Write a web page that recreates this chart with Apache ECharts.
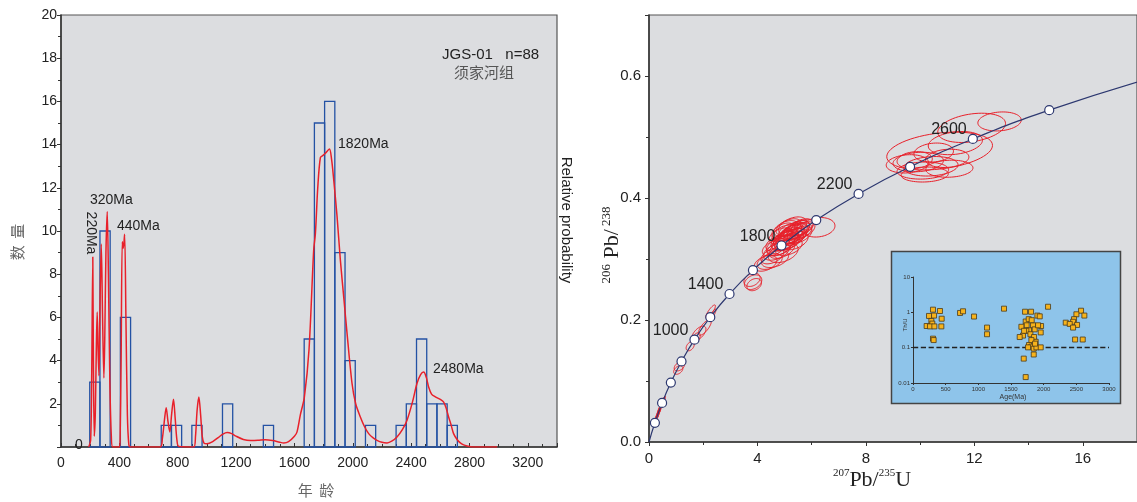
<!DOCTYPE html>
<html><head><meta charset="utf-8">
<script src="https://cdn.jsdelivr.net/npm/echarts@6/dist/echarts.min.js"></script>
<style>html,body{margin:0;padding:0;background:#fff}#c{width:1137px;height:502px}</style>
</head><body><div id="c"></div>
<script>
// ---------- Left: age histogram + probability curve ----------
const binStart = [197,267,407,687,757,897,1107,1387,1667,1737,1807,1877,1947,2087,2297,2367,2437,2507,2577,2647];
const binCount = [3,10,6,1,1,1,2,1,5,15,16,9,4,1,1,2,5,2,2,1];
const binWidth = 70;
const probAge = [190,203,210,218,222,228,235,242,248,254,260,266,276,285,294,300,308,317,325,335,345,355,400,405,412,420,427,436,445,455,465,475,
  680,695,710,721,733,746,758,771,783,795,808,910,922,933,945,957,968,980,1000,1040,1080,1110,1139,1170,1200,1250,1300,1350,1400,1450,1500,1527,1560,1600,1618,1641,1668,1700,1732,1744,1760,1778,1796,1812,1840,1855,1869,1892,1915,1940,1961,1995,2020,2052,2080,2109,2140,2166,2200,2235,2270,2303,2340,2372,2410,2440,2465,2486,2505,2520,2540,2566,2600,2623,2640,2657,2675,2691,2715,2737,2760,2783,2820,2990];
const probVal = [0,0.3,3,8.8,4,0.5,1.5,4.5,6.25,4.5,3.3,6,9.4,6,3.2,5,9,10.9,8,3,0.5,0,0,0.3,4,9.5,9.2,9.85,6,1.5,0.1,0,
  0,0.4,1.3,1.82,1.2,0.7,1.5,2.21,1.3,0.3,0.02,0,0.5,1.7,2.32,1.5,0.5,0.18,0.15,0.25,0.45,0.6,0.67,0.62,0.5,0.35,0.3,0.31,0.34,0.3,0.22,0.19,0.25,0.5,0.7,1.5,2.3,4.5,9.1,9.9,12,13.4,13.5,13.6,13.8,13.3,12.4,10.7,8.65,6.8,5.25,2.94,2.0,1.39,0.95,0.62,0.42,0.31,0.22,0.19,0.28,0.46,0.8,1.24,2.1,2.94,3.35,3.47,3.2,2.78,2.45,2.32,2.2,2.08,1.8,1.39,1.0,0.62,0.35,0.19,0.1,0.05,0,0];

// ---------- Right: concordia ----------
const concAge = [0,200,400,600,800,1000,1200,1400,1600,1800,2000,2200,2400,2600,2800,3000];
const concX = [0,0.2177,0.4828,0.8057,1.1988,1.6774,2.2603,2.9700,3.8345,4.8870,6.1689,7.7297,9.6303,11.9447,14.7624,18.1928];
const concY = [0,0.0315,0.0640,0.0975,0.1321,0.1678,0.2046,0.2426,0.2817,0.3221,0.3638,0.4067,0.4511,0.4968,0.5440,0.5926];
const concLabelAges = [1000,1400,1800,2200,2600];

const ellX = [4.55,4.70,4.80,4.85,4.95,5.00,5.05,5.10,5.15,5.20,5.25,5.30,5.35,5.40,5.45,5.50,5.30,5.10,4.90,5.60,5.20,5.00,4.85,5.30,5.55,4.65,4.45,4.30,4.95,5.15,5.35,5.55,5.65,5.15,4.95,4.75,5.40,4.60,5.70,5.05,6.24,3.84,3.80,3.88,
  12.93,11.90,10.72,11.30,10.17,11.08,9.93,10.50,9.53,10.40,11.00,10.10,9.80,
  2.27,2.35,2.06,1.84,1.73,1.52,1.12,1.08,
  0.24,0.27,0.29,0.31,0.32,0.34,0.36,0.37,0.38,0.40,0.42,0.51,0.53,0.55,0.50];
const ellY = [0.305,0.312,0.318,0.322,0.326,0.330,0.334,0.336,0.332,0.338,0.340,0.344,0.342,0.346,0.348,0.350,0.336,0.328,0.316,0.352,0.346,0.342,0.338,0.354,0.345,0.300,0.296,0.293,0.310,0.320,0.330,0.340,0.352,0.352,0.346,0.326,0.338,0.318,0.348,0.350,0.352,0.262,0.266,0.258,
  0.5255,0.515,0.477,0.490,0.4385,0.448,0.459,0.4745,0.456,0.452,0.465,0.445,0.462,
  0.2137,0.209,0.188,0.178,0.170,0.157,0.124,0.118,
  0.0347,0.039,0.041,0.043,0.045,0.047,0.049,0.051,0.052,0.055,0.057,0.067,0.069,0.071,0.066];
const ellSX = [0.42,0.48,0.44,0.52,0.42,0.50,0.46,0.42,0.55,0.45,0.48,0.42,0.52,0.44,0.48,0.42,0.50,0.46,0.48,0.45,0.42,0.46,0.42,0.52,0.46,0.50,0.46,0.42,0.55,0.50,0.52,0.46,0.42,0.46,0.42,0.44,0.42,0.42,0.42,0.44,0.62,0.32,0.30,0.27,
  0.80,1.25,1.95,1.00,0.87,0.87,0.93,0.73,0.78,1.00,0.80,0.95,0.65,
  0.18,0.12,0.24,0.26,0.16,0.15,0.19,0.17,
  0.06,0.06,0.06,0.06,0.06,0.06,0.06,0.06,0.06,0.06,0.06,0.06,0.06,0.06,0.06];
const ellSY = [0.013,0.014,0.013,0.016,0.013,0.015,0.014,0.013,0.016,0.014,0.015,0.013,0.016,0.014,0.015,0.013,0.014,0.014,0.015,0.014,0.013,0.014,0.013,0.015,0.014,0.014,0.013,0.013,0.016,0.014,0.015,0.014,0.013,0.014,0.013,0.013,0.013,0.013,0.013,0.013,0.016,0.012,0.011,0.010,
  0.0156,0.024,0.031,0.019,0.0123,0.014,0.016,0.0156,0.015,0.016,0.015,0.014,0.014,
  0.011,0.009,0.013,0.012,0.009,0.0075,0.0075,0.007,
  0.004,0.004,0.004,0.004,0.004,0.004,0.004,0.004,0.004,0.004,0.004,0.004,0.004,0.004,0.004];
const ellRho = [0.45,0.45,0.5,0.45,0.45,0.45,0.5,0.45,0.45,0.45,0.4,0.45,0.45,0.5,0.45,0.45,0.45,0.45,0.45,0.45,0.45,0.45,0.45,0.4,0.45,0.4,0.4,0.4,0.4,0.4,0.4,0.45,0.45,0.45,0.45,0.45,0.45,0.45,0.45,0.45,0.15,0.3,0.3,0.3,
  0.15,0.3,0.3,0.25,0.1,0.1,0.15,0.15,0.15,0.15,0.15,0.1,0.15,
  0.85,0.85,0.75,0.6,0.5,0.4,0.4,0.4,
  0.8,0.8,0.8,0.8,0.8,0.8,0.8,0.8,0.8,0.8,0.8,0.8,0.8,0.8,0.8];

// ---------- Inset: Th/U vs age ----------
const insetAge = [306,413,322,245,439,281,296,209,260,327,434,306,316,720,766,934,1133,1133,1393,1715,1807,2067,1904,1940,1725,1771,1740,1659,1837,1960,1776,1863,1684,1735,1797,1955,1853,1700,1878,1776,1812,1761,1848,1889,1955,1848,1695,1725,2572,2501,2623,2465,2450,2338,2399,2511,2450,2481,2598,1812,1633,1817,1914,1868];
const insetThU = [1.19,1.09,0.81,0.79,0.66,0.57,0.48,0.41,0.40,0.40,0.40,0.18,0.164,0.96,1.07,0.76,0.37,0.24,1.27,1.04,1.04,1.44,0.81,0.77,0.55,0.64,0.43,0.39,0.43,0.41,0.31,0.33,0.22,0.30,0.24,0.27,0.20,0.30,0.147,0.119,0.107,0.102,0.094,0.102,0.102,0.064,0.049,0.0147,1.11,0.88,0.81,0.64,0.54,0.51,0.47,0.44,0.37,0.17,0.17,0.164,0.20,0.60,0.43,0.13];

const RED = '#e8202a', BLUE = '#2452a4', NAVY = '#2d3870', BG = '#dcdde0';
const SANS = '"Liberation Sans", Arial, sans-serif';
const SERIF = '"Liberation Serif", "DejaVu Serif", serif';

const chart = echarts.init(document.getElementById('c'), null, {renderer: 'canvas'});

function txt(x, y, text, size, color, opts) {
  opts = opts || {};
  return {type: 'text', x: x, y: y, rotation: opts.rotation || 0, z: opts.z || 50,
    style: {text: text, font: (opts.font || (size + 'px ' + SANS)), fill: color,
      align: opts.align || 'left', textAlign: opts.align || 'left',
      verticalAlign: 'middle', textVerticalAlign: 'middle', rich: opts.rich}};
}

const axisLineDark = {show: true, lineStyle: {color: '#333', width: 1.5}};
const plain = v => String(v);

const option = {
  animation: false,
  grid: [
    {left: 61, top: 15, width: 496, height: 432, show: true, backgroundColor: BG, borderColor: '#555', borderWidth: 1.2},
    {left: 649, top: 15, width: 495, height: 427, show: true, backgroundColor: BG, borderColor: '#555', borderWidth: 1.2},
    {left: 913, top: 277, width: 196, height: 106, z: 20}
  ],
  xAxis: [
    {gridIndex: 0, type: 'value', min: 0, max: 3400, interval: 400,
      axisLine: axisLineDark, axisTick: {show: true, inside: true, length: 4, lineStyle: {color: '#333'}},
      minorTick: {show: true, splitNumber: 4, length: 3, lineStyle: {color: '#333'}},
      splitLine: {show: false}, minorSplitLine: {show: false},
      axisLabel: {fontSize: 14, color: '#222', fontFamily: SANS, margin: 9, showMaxLabel: false, formatter: plain}},
    {gridIndex: 1, type: 'value', min: 0, max: 18, interval: 4,
      axisLine: axisLineDark, axisTick: {show: true, length: 4, lineStyle: {color: '#333'}},
      minorTick: {show: true, splitNumber: 2, length: 3, lineStyle: {color: '#333'}},
      splitLine: {show: false},
      axisLabel: {fontSize: 15, color: '#222', fontFamily: SANS, margin: 9, showMaxLabel: false, formatter: plain}},
    {gridIndex: 2, type: 'value', min: 0, max: 3000, interval: 500, z: 20,
      axisLine: {show: true, lineStyle: {color: '#333', width: 1.2}},
      axisTick: {show: true, length: 2, lineStyle: {color: '#333'}},
      splitLine: {show: false},
      axisLabel: {fontSize: 6, color: '#333', fontFamily: SANS, margin: 3, formatter: plain}}
  ],
  yAxis: [
    {gridIndex: 0, type: 'value', min: 0, max: 20, interval: 2,
      axisLine: axisLineDark, axisTick: {show: true, length: 4, lineStyle: {color: '#333'}},
      minorTick: {show: true, splitNumber: 2, length: 3, lineStyle: {color: '#333'}},
      splitLine: {show: false},
      axisLabel: {fontSize: 14, color: '#222', fontFamily: SANS, margin: 4, formatter: v => v === 0 ? '' : String(v)}},
    {gridIndex: 1, type: 'value', min: 0, max: 0.7, interval: 0.2,
      axisLine: axisLineDark, axisTick: {show: true, length: 4, lineStyle: {color: '#333'}},
      minorTick: {show: true, splitNumber: 2, length: 3, lineStyle: {color: '#333'}},
      splitLine: {show: false},
      axisLabel: {fontSize: 15, color: '#222', fontFamily: SANS, margin: 8, showMaxLabel: false, formatter: v => v.toFixed(1)}},
    {gridIndex: 2, type: 'log', logBase: 10, min: 0.01, max: 10, z: 20,
      axisLine: {show: true, lineStyle: {color: '#333', width: 1}},
      axisTick: {show: true, length: 2, lineStyle: {color: '#333'}},
      splitLine: {show: false},
      axisLabel: {fontSize: 6, color: '#333', fontFamily: SANS, margin: 3, formatter: v => String(+(+v).toPrecision(1))}}
  ],
  series: [
    {type: 'custom', xAxisIndex: 0, yAxisIndex: 0, z: 3,
      data: binStart.map((s, i) => [s, s + binWidth, binCount[i]]),
      encode: {x: [0, 1], y: 2},
      renderItem: function (params, api) {
        const p0 = api.coord([api.value(0), api.value(2)]);
        const p1 = api.coord([api.value(1), 0]);
        return {type: 'rect', shape: {x: p0[0], y: p0[1], width: p1[0] - p0[0], height: p1[1] - p0[1]},
          style: {fill: 'none', stroke: BLUE, lineWidth: 1.3}};
      }},
    {type: 'line', xAxisIndex: 0, yAxisIndex: 0, z: 4, symbol: 'none', smooth: 0.3,
      data: probAge.map((a, i) => [a, probVal[i]]),
      lineStyle: {color: RED, width: 1.5}},
    {type: 'custom', xAxisIndex: 1, yAxisIndex: 1, z: 4,
      data: ellX.map((x, i) => [x, ellY[i], ellSX[i], ellSY[i], ellRho[i]]),
      encode: {x: 0, y: 1},
      renderItem: function (params, api) {
        const cx = api.value(0), cy = api.value(1), sx = api.value(2), sy = api.value(3), r = api.value(4);
        const q = Math.sqrt(1 - r * r), pts = [];
        for (let k = 0; k < 64; k++) {
          const t = 2 * Math.PI * k / 64;
          pts.push(api.coord([cx + sx * Math.cos(t), cy + sy * (r * Math.cos(t) + q * Math.sin(t))]));
        }
        return {type: 'polygon', shape: {points: pts}, style: {fill: 'none', stroke: RED, lineWidth: 1}};
      }},
    {type: 'line', xAxisIndex: 1, yAxisIndex: 1, z: 5, symbol: 'none', smooth: true,
      data: concAge.map((a, i) => [concX[i], concY[i]]),
      lineStyle: {color: NAVY, width: 1.2}},
    {type: 'scatter', xAxisIndex: 1, yAxisIndex: 1, z: 6, symbol: 'circle', symbolSize: 9,
      data: concAge.map((a, i) => [concX[i], concY[i], a]).filter(d => d[2] > 0 && d[2] < 3000),
      itemStyle: {color: '#fff', borderColor: NAVY, borderWidth: 1.2, opacity: 1},
      label: {show: true, position: 'left', distance: 1, offset: [0, -9], fontSize: 16, color: '#222', fontFamily: SANS,
        formatter: p => concLabelAges.indexOf(p.value[2]) >= 0 ? String(p.value[2]) : ''}},
    {type: 'scatter', xAxisIndex: 2, yAxisIndex: 2, z: 22, symbol: 'rect', symbolSize: 5,
      data: insetAge.map((a, i) => [a, insetThU[i]]),
      itemStyle: {color: '#f7b31c', borderColor: '#4a3a1a', borderWidth: 0.8, opacity: 1},
      markLine: {silent: true, symbol: 'none', label: {show: false}, z: 21,
        lineStyle: {color: '#222', type: 'dashed', width: 1.3}, data: [{yAxis: 0.1}]}}
  ],
  graphic: [
    {type: 'rect', z: 10, shape: {x: 891.5, y: 251.5, width: 229, height: 152},
      style: {fill: '#8ec4ea', stroke: '#444', lineWidth: 1.5}},
    txt(75, 445, '0', 14, '#222'),
    txt(442, 55, 'JGS-01   n=88', 15, '#222'),
    txt(454, 72, '须家河组', 15, '#555', {font: '15px "Noto Sans CJK SC", sans-serif'}),
    txt(90, 200, '320Ma', 14, '#222'),
    txt(117, 226, '440Ma', 14, '#222'),
    txt(91, 233, '220Ma', 14, '#222', {align: 'center', rotation: -Math.PI / 2}),
    txt(338, 144, '1820Ma', 14, '#222'),
    txt(433, 369, '2480Ma', 14, '#222'),
    txt(566, 220, 'Relative probability', 15, '#222', {align: 'center', rotation: -Math.PI / 2}),
    txt(17, 242, '数  量', 15, '#666', {align: 'center', rotation: Math.PI / 2, font: '15px "Noto Sans CJK SC", sans-serif'}),
    txt(316, 490, '年  龄', 15, '#666', {align: 'center', font: '15px "Noto Sans CJK SC", sans-serif'}),
    txt(872, 480, '{a|207}{b|Pb/}{a|235}{b|U}', 22, '#222', {align: 'center', rich: {
      a: {fontSize: 11, fontFamily: SERIF, verticalAlign: 'top', lineHeight: 24},
      b: {fontSize: 22, fontFamily: SERIF, lineHeight: 24}}}),
    txt(612, 245, '{a|206}{b| Pb/}{a| 238}', 20, '#222', {align: 'center', rotation: Math.PI / 2, rich: {
      a: {fontSize: 13, fontFamily: SERIF, verticalAlign: 'top', lineHeight: 24},
      b: {fontSize: 22, fontFamily: SERIF, lineHeight: 24}}}),
    txt(905, 325, 'Th/U', 6, '#333', {align: 'center', rotation: Math.PI / 2, z: 30}),
    txt(1013, 397, 'Age(Ma)', 7, '#333', {align: 'center', z: 30})
  ]
};
chart.setOption(option);
</script></body></html>
